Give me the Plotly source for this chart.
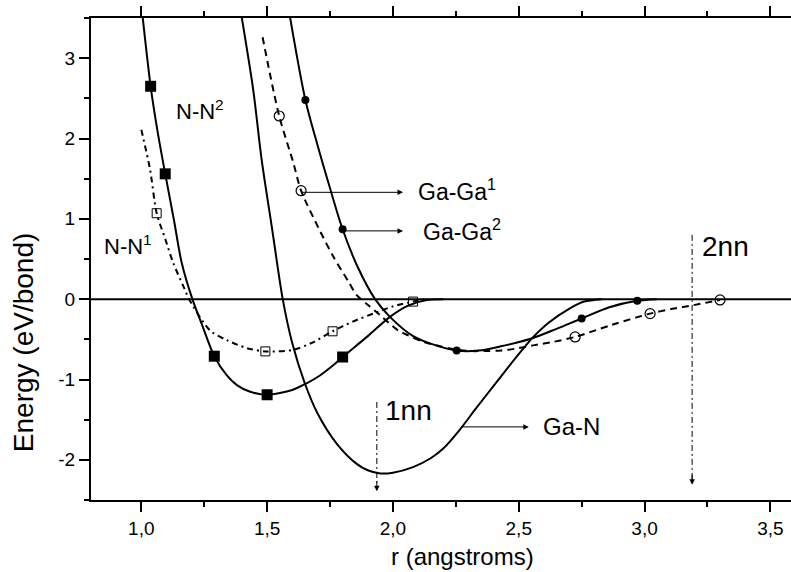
import plotly.graph_objects as go

# ---- data ----
# N-N^2 : solid curve, filled squares
nn2_r = [1.005, 1.037, 1.065, 1.095, 1.13, 1.16, 1.203, 1.245, 1.29, 1.34, 1.38, 1.43, 1.50,
         1.60, 1.655, 1.71, 1.76, 1.80, 1.90, 1.988, 2.06, 2.134, 2.20]
nn2_E = [3.52, 2.65, 2.08, 1.56, 0.98, 0.46, 0.0, -0.35, -0.71, -0.95, -1.07, -1.15, -1.19,
         -1.13, -1.05, -0.95, -0.83, -0.72, -0.46, -0.22, -0.08, -0.01, 0.0]
nn2_mr = [1.037, 1.095, 1.29, 1.50, 1.80]
nn2_mE = [2.65, 1.56, -0.71, -1.19, -0.72]

# N-N^1 : dash-dot curve, open squares
nn1_r = [1.0, 1.035, 1.061, 1.095, 1.127, 1.17, 1.19, 1.273, 1.34, 1.42, 1.493, 1.604, 1.68,
         1.76, 1.84, 1.922, 2.0, 2.08, 2.13]
nn1_E = [2.11, 1.61, 1.07, 0.75, 0.45, 0.14, 0.0, -0.39, -0.51, -0.61, -0.65, -0.63, -0.54,
         -0.40, -0.28, -0.18, -0.09, -0.03, 0.0]
nn1_mr = [1.061, 1.493, 1.76, 2.08]
nn1_mE = [1.07, -0.65, -0.40, -0.03]

# Ga-N : solid curve, no markers
gan_r = [1.399, 1.445, 1.478, 1.52, 1.562, 1.60, 1.65, 1.70, 1.777, 1.856, 1.90, 1.95, 2.00,
         2.08, 2.15, 2.20, 2.267, 2.33, 2.40, 2.46, 2.517, 2.558, 2.62, 2.70, 2.76, 2.83]
gan_E = [3.51, 2.6, 1.74, 0.87, 0.0, -0.55, -1.05, -1.42, -1.80, -2.05, -2.13, -2.17, -2.16,
         -2.09, -1.98, -1.86, -1.62, -1.36, -1.08, -0.84, -0.62, -0.47, -0.29, -0.12, -0.03, 0.0]

# Ga-Ga^2 : solid curve, filled circles
gg2_r = [1.591, 1.652, 1.70, 1.75, 1.80, 1.86, 1.929, 1.988, 2.08, 2.147, 2.253, 2.34,
         2.425, 2.551, 2.65, 2.75, 2.86, 2.971, 3.05]
gg2_E = [3.51, 2.48, 1.92, 1.38, 0.87, 0.40, 0.0, -0.22, -0.46, -0.55, -0.64, -0.64,
         -0.59, -0.49, -0.37, -0.24, -0.10, -0.02, 0.0]
gg2_mr = [1.652, 1.80, 2.253, 2.75, 2.971]
gg2_mE = [2.48, 0.87, -0.64, -0.24, -0.02]

# Ga-Ga^1 : dashed curve, open circles
gg1_r = [1.482, 1.548, 1.604, 1.635, 1.71, 1.763, 1.823, 1.856, 1.902, 1.949, 2.021, 2.061,
         2.12, 2.22, 2.30, 2.372, 2.43, 2.50, 2.558, 2.64, 2.724, 2.87, 3.022, 3.11, 3.194, 3.30]
gg1_E = [3.26, 2.28, 1.70, 1.35, 0.85, 0.53, 0.22, 0.05, -0.075, -0.2, -0.39, -0.45,
         -0.53, -0.61, -0.645, -0.645, -0.64, -0.61, -0.575, -0.53, -0.47, -0.32, -0.18,
         -0.12, -0.075, -0.01]
gg1_mr = [1.548, 1.635, 2.724, 3.022, 3.30]
gg1_mE = [2.28, 1.35, -0.47, -0.18, -0.01]

zero_r = [0.8, 3.6]
zero_E = [0.0, 0.0]

nn1_line_r = [1.936, 1.936]
nn1_line_E = [-1.28, -2.33]
nn2_line_r = [3.189, 3.189]
nn2_line_E = [0.80, -2.25]

x_ticks = [1.0, 1.5, 2.0, 2.5, 3.0, 3.5]
x_ticktext = ["1,0", "1,5", "2,0", "2,5", "3,0", "3,5"]
y_ticks = [-2, -1, 0, 1, 2, 3]
y_ticktext = ["-2", "-1", "0", "1", "2", "3"]

FONT = "Liberation Sans"
BLACK = "black"

fig = go.Figure()

fig.add_trace(go.Scatter(x=zero_r, y=zero_E, mode="lines",
                         line=dict(color=BLACK, width=2), showlegend=False))

def curve(r, E, dash):
    fig.add_trace(go.Scatter(x=r, y=E, mode="lines",
                             line=dict(color=BLACK, width=2, dash=dash, shape="spline", smoothing=0.8),
                             showlegend=False))

curve(nn2_r, nn2_E, "solid")
curve(nn1_r, nn1_E, "6px,4px,2px,4px")
curve(gan_r, gan_E, "solid")
curve(gg2_r, gg2_E, "solid")
curve(gg1_r, gg1_E, "7px,5px")

# markers
fig.add_trace(go.Scatter(x=nn2_mr, y=nn2_mE, mode="markers",
                         marker=dict(symbol="square", size=11, color=BLACK), showlegend=False))
fig.add_trace(go.Scatter(x=nn1_mr, y=nn1_mE, mode="markers",
                         marker=dict(symbol="square-open", size=9, color=BLACK, line=dict(width=1)),
                         showlegend=False))
fig.add_trace(go.Scatter(x=gg2_mr, y=gg2_mE, mode="markers",
                         marker=dict(symbol="circle", size=8, color=BLACK), showlegend=False))
fig.add_trace(go.Scatter(x=gg1_mr, y=gg1_mE, mode="markers",
                         marker=dict(symbol="circle-open", size=10, color=BLACK, line=dict(width=1.2)),
                         showlegend=False))

# nearest-neighbour markers (dash-dot vertical lines)
for lr, lE in [(nn1_line_r, nn1_line_E), (nn2_line_r, nn2_line_E)]:
    fig.add_trace(go.Scatter(x=lr, y=lE, mode="lines",
                             line=dict(color=BLACK, width=1, dash="6px,3px,2px,3px"),
                             showlegend=False))

annotations = []
def arrow(x0, y0, x1, y1):
    annotations.append(dict(x=x1, y=y1, ax=x0, ay=y0, xref="x", yref="y", axref="x", ayref="y",
                            text="", showarrow=True, arrowhead=2, arrowsize=1.1, arrowwidth=1,
                            arrowcolor=BLACK))

def label(x, y, text, size):
    annotations.append(dict(x=x, y=y, xref="x", yref="y", text=text, showarrow=False,
                            xanchor="left", yanchor="middle",
                            font=dict(family=FONT, size=size, color=BLACK)))

arrow(1.635, 1.33, 2.04, 1.33)
arrow(1.80, 0.85, 2.04, 0.85)
arrow(2.267, -1.59, 2.54, -1.59)
arrow(nn1_line_r[0], -2.25, nn1_line_r[0], nn1_line_E[1] - 0.06)
arrow(nn2_line_r[0], -2.17, nn2_line_r[0], nn2_line_E[1] - 0.06)

label(1.13, 2.36, "N-N<sup>2</sup>", 22)
label(0.845, 0.68, "N-N<sup>1</sup>", 22)
label(2.09, 1.36, "Ga-Ga<sup>1</sup>", 23)
label(2.11, 0.86, "Ga-Ga<sup>2</sup>", 23)
label(2.59, -1.59, "Ga-N", 24)
label(1.962, -1.39, "1nn", 28)
label(3.222, 0.65, "2nn", 28)

# axis titles (placed as in the reference, slightly off the plot centre)
annotations.append(dict(x=-0.096, y=0.327, xref="paper", yref="paper", text="Energy (eV/bond)",
                        textangle=-90, showarrow=False, xanchor="center", yanchor="middle",
                        font=dict(family=FONT, size=28, color=BLACK)))
annotations.append(dict(x=0.531, y=-0.117, xref="paper", yref="paper", text="r (angstroms)",
                        showarrow=False, xanchor="center", yanchor="middle",
                        font=dict(family=FONT, size=24, color=BLACK)))

fig.update_layout(
    width=791, height=572,
    margin=dict(l=91, r=0, t=18, b=72),
    paper_bgcolor="white", plot_bgcolor="white",
    font=dict(family=FONT, color=BLACK, size=19),
    annotations=annotations,
    showlegend=False,
)

fig.update_xaxes(
    range=[0.8, 3.582], tickvals=x_ticks, ticktext=x_ticktext,
    ticks="outside", ticklen=10, tickwidth=1.5, tickcolor=BLACK,
    minor=dict(dtick=0.25, tick0=0, ticks="outside", ticklen=5, tickwidth=1.5, tickcolor=BLACK),
    showline=True, linecolor=BLACK, linewidth=2, mirror="ticks",
    showgrid=False, zeroline=False,
    tickfont=dict(family=FONT, size=19, color=BLACK),
)
fig.update_yaxes(
    range=[-2.5, 3.5], tickvals=y_ticks, ticktext=y_ticktext,
    ticks="outside", ticklen=10, tickwidth=1.5, tickcolor=BLACK,
    minor=dict(dtick=0.5, tick0=0, ticks="outside", ticklen=5, tickwidth=1.5, tickcolor=BLACK),
    showline=True, linecolor=BLACK, linewidth=2,
    showgrid=False, zeroline=False,
    tickfont=dict(family=FONT, size=19, color=BLACK),
)

fig.write_html("out.html")
